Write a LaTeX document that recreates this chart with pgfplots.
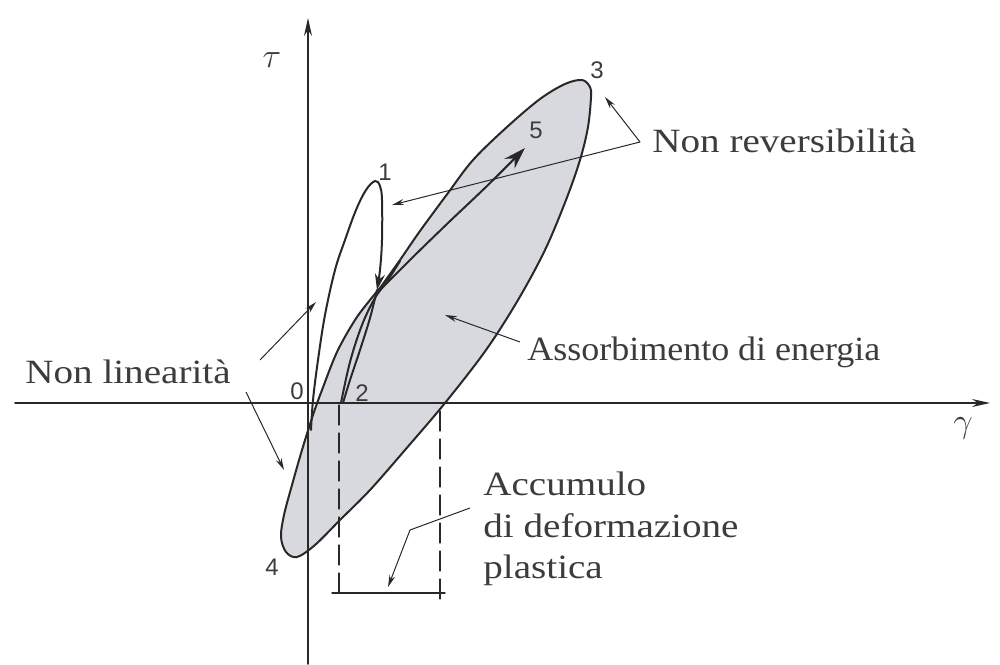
\documentclass[border=0pt]{standalone}
\usepackage{pgfplots}
\pgfplotsset{compat=1.18}
\usetikzlibrary{arrows.meta}
\usepackage{fontspec}
\setmainfont[FakeStretch=1.15]{Liberation Serif}
\newfontfamily\digitfont{Liberation Sans}
\definecolor{ink}{RGB}{40,40,40}
\definecolor{txt}{RGB}{60,60,60}
\definecolor{loopfill}{RGB}{216,217,223}

\begin{document}
\begin{tikzpicture}
\begin{axis}[
  width=500pt, height=332pt, scale only axis,
  xmin=-308, xmax=692, ymin=-261, ymax=403,
  hide axis, clip=false,
  every axis plot/.append style={line join=round, line cap=round},
]
% keep the full drawing area as the picture's extent
\path (axis cs:-308,-261) rectangle (axis cs:692,403);

% shaded hysteresis loop 2-3-4 (energy absorbed)
\addplot[fill=loopfill, draw=ink, line width=1pt, smooth, tension=0.55] coordinates {
  (72,115) (92,143) (112,172) (140,210) (165,243) (199,276) (232,304)
  (257,319) (274,323) (282,316) (283,306) (280,276) (272,243) (258,203)
  (237,153) (210,103) (178,53) (137,0) (97,-47) (62,-87) (32,-117)
  (7,-142) (-11,-154) (-22,-149) (-27,-134) (-24,-112) (-16,-82)
  (-6,-47) (5,-12) (14,13) (29,51) (47,83) (62,103) (72,115)
};

% axes
\addplot[ink, line width=0.8pt, -{Stealth[length=9pt,width=4pt]}] coordinates {(0,-261) (0,385)};
\addplot[ink, line width=0.8pt, -{Stealth[length=9pt,width=4pt]}] coordinates {(-293,0) (682,0)};

% first loading 0-1 and unloading towards 2
\addplot[ink, line width=1pt, smooth, tension=0.6, -{Stealth[length=8pt,width=5pt]}] coordinates {
  (3,-27) (5,3) (10,43) (17,88) (27,133) (37,163) (48,193) (58,213)
  (67,222) (72,217) (74,203) (74,163) (72,133) (69,113)
};
\addplot[ink, line width=1pt, smooth, tension=0.6] coordinates {
  (69,113) (62,85) (52,53) (42,23) (35,0)
};

% reloading from 2
\addplot[ink, line width=1pt, smooth, tension=0.6] coordinates {
  (33,0) (42,41) (54,78) (67,105) (80,123) (92,142)
};

% reloading towards 5
\addplot[ink, line width=1pt, smooth, tension=0.6, -{Stealth[length=11pt,width=7pt]}] coordinates {
  (72,113) (105,146) (140,180) (180,218) (217,255)
};

% accumulated plastic strain
\addplot[ink, line width=0.6pt, dash pattern=on 10pt off 4pt] coordinates {(31,-2) (31,-197)};
\addplot[ink, line width=0.6pt, dash pattern=on 10pt off 4pt] coordinates {(132,-8) (132,-197)};
\addplot[ink, line width=0.7pt] coordinates {(24,-190) (137,-190)};

% annotation leaders
\draw[ink, line width=0.5pt, -{Stealth[length=6pt,width=3pt]}] (axis cs:332,261) -- (axis cs:297,306);
\draw[ink, line width=0.5pt, -{Stealth[length=6pt,width=3pt]}] (axis cs:332,261) -- (axis cs:84,198);
\draw[ink, line width=0.5pt, -{Stealth[length=6pt,width=3pt]}] (axis cs:-48,43) -- (axis cs:8,101);
\draw[ink, line width=0.5pt, -{Stealth[length=6pt,width=3pt]}] (axis cs:-62,11) -- (axis cs:-24,-67);
\draw[ink, line width=0.5pt, -{Stealth[length=6pt,width=3pt]}] (axis cs:212,61) -- (axis cs:137,88);
\draw[ink, line width=0.5pt, -{Stealth[length=6pt,width=3pt]}] (axis cs:162,-105) -- (axis cs:102,-127) -- (axis cs:80,-184);

% point labels
\begin{scope}[every node/.style={text=txt, font=\digitfont\fontsize{12}{14}\selectfont}]
\node at (axis cs:-11,12) {0};
\node at (axis cs:77,231) {1};
\node at (axis cs:54,10) {2};
\node at (axis cs:289,333) {3};
\node at (axis cs:-36,-164) {4};
\node at (axis cs:228,273) {5};
\end{scope}
\node[text=txt, font=\fontsize{16}{18}\selectfont] at (axis cs:-36,343) {$\tau$};
\node[text=txt, font=\fontsize{16}{18}\selectfont] at (axis cs:655,-25) {$\gamma$};

% descriptions
\begin{scope}[every node/.style={text=txt, font=\fontsize{17}{20}\selectfont, anchor=base west, inner sep=0pt}]
\node at (axis cs:-283,20) {Non linearità};
\node at (axis cs:344,250) {Non reversibilità};
\node at (axis cs:219,43) {\scalebox{0.92}[1]{Assorbimento di energia}};
\node at (axis cs:175,-92) {Accumulo};
\node at (axis cs:175,-134) {di deformazione};
\node at (axis cs:175,-175) {plastica};
\end{scope}
\end{axis}
\end{tikzpicture}
\end{document}
